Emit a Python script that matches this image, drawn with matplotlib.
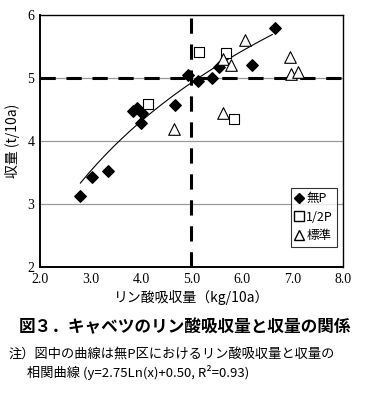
import numpy as np
import matplotlib
matplotlib.use("Agg")
import matplotlib.pyplot as plt
from matplotlib.lines import Line2D

plt.rcParams['font.family'] = ['Noto Sans CJK JP', 'DejaVu Sans']

# 無P
nop_x = [2.79, 3.02, 3.35, 3.85, 3.92, 4.02, 4.00, 4.67, 4.94, 5.13, 5.40, 5.54, 6.19, 6.65]
nop_y = [3.13, 3.43, 3.53, 4.48, 4.52, 4.45, 4.28, 4.57, 5.05, 4.96, 5.00, 5.17, 5.21, 5.79]
# 1/2P
half_x = [4.13, 5.15, 5.68, 5.85]
half_y = [4.58, 5.42, 5.40, 4.35]
# 標準
std_x = [4.65, 5.62, 5.63, 5.78, 6.06, 6.95, 6.97, 7.10]
std_y = [4.19, 4.45, 5.30, 5.21, 5.61, 5.33, 5.06, 5.10]

# fitted curve y = a*ln(x) + b
fit_a, fit_b = 2.75, 0.50
fit_range = (2.8, 6.6)

xticks = [2.0, 3.0, 4.0, 5.0, 6.0, 7.0, 8.0]
yticks = [2, 3, 4, 5, 6]

fig = plt.figure(figsize=(3.69, 3.97), dpi=100)
ax = fig.add_axes([0.1084, 0.3275, 0.8211, 0.6347])

serif = 'Liberation Serif'

for yv in [3, 4, 5]:
    ax.axhline(yv, color='#999999', lw=0.9, zorder=0)

ax.axhline(5, color='black', lw=2.2, dashes=(5, 3.5), zorder=1)
ax.axvline(5, color='black', lw=2.2, dashes=(5, 3.5), zorder=1)

xs = np.linspace(fit_range[0], fit_range[1], 100)
ax.plot(xs, fit_a * np.log(xs) + fit_b, color='black', lw=0.8, zorder=2)

ax.scatter(nop_x, nop_y, marker='D', s=34, color='black', zorder=3)
ax.scatter(half_x, half_y, marker='s', s=60, facecolor='white', edgecolor='black', lw=0.8, zorder=3)
ax.scatter(std_x, std_y, marker='^', s=70, facecolor='white', edgecolor='black', lw=0.8, zorder=3)

ax.set_xlim(2, 8)
ax.set_ylim(2, 6)
ax.set_xticks(xticks)
ax.set_xticklabels([f"{v:.1f}" for v in xticks], fontfamily=serif, fontsize=10)
ax.set_yticks(yticks)
ax.set_yticklabels([str(v) for v in yticks], fontfamily=serif, fontsize=10)
ax.tick_params(length=0, pad=4)
for sp in ax.spines.values():
    sp.set_color('black')
    sp.set_linewidth(1.0)
ax.spines['left'].set_linewidth(1.4)
ax.spines['bottom'].set_linewidth(1.4)

ax.set_ylabel('収量 (t/10a)', fontsize=10, labelpad=5)
ax.set_xlabel('リン酸吸収量（kg/10a）', fontsize=10, labelpad=3)

handles = [
    Line2D([], [], marker='D', ls='', color='black', markersize=5.5),
    Line2D([], [], marker='s', ls='', mfc='white', mec='black', markersize=7),
    Line2D([], [], marker='^', ls='', mfc='white', mec='black', markersize=7.5),
]
leg = ax.legend(handles, ['無P', '1/2P', '標準'], loc='lower right',
                bbox_to_anchor=(0.99, 0.07), fontsize=9, frameon=True, fancybox=False,
                handlelength=0.6, handletextpad=0.3, borderpad=0.35, labelspacing=0.45,
                borderaxespad=0.2)
leg.get_frame().set_edgecolor('black')
leg.get_frame().set_linewidth(0.8)

fig.text(0.5, 1 - 327 / 397, '図３．キャベツのリン酸吸収量と収量の関係',
         ha='center', va='center', fontsize=12, fontweight='bold')
fig.text(0.022, 1 - 355 / 397, '注）図中の曲線は無P区におけるリン酸吸収量と収量の',
         ha='left', va='center', fontsize=9.5)
fig.text(0.073, 1 - 373 / 397, '相関曲線 (y=2.75Ln(x)+0.50, R²=0.93)',
         ha='left', va='center', fontsize=9.5)

fig.savefig('out.png', dpi=100)
